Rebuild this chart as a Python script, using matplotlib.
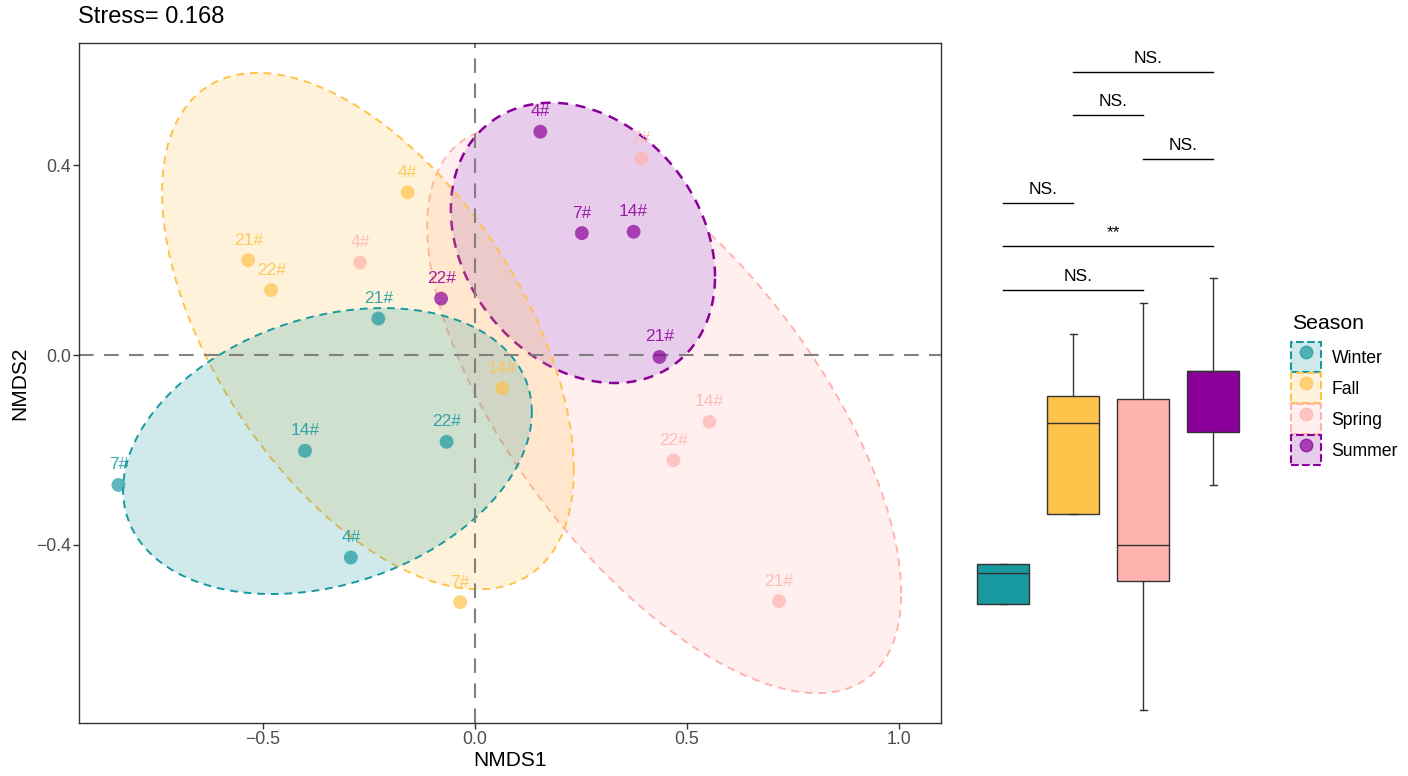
import numpy as np
import matplotlib
matplotlib.use('Agg')
import matplotlib.pyplot as plt
from matplotlib.patches import Patch
from matplotlib.lines import Line2D
from matplotlib.colors import to_rgba, to_rgb

plt.rcParams['font.family'] = ['Liberation Sans', 'DejaVu Sans']

# Groups and colours
seasons = ['Winter', 'Fall', 'Spring', 'Summer']
colors = ['#18999F', '#FFC24A', '#FFB3AE', '#8B009B']
sites = ['4#', '7#', '14#', '21#', '22#']
stress = 0.168

# NMDS scores, sites in the order above
nmds1Winter = [-0.293, -0.841, -0.401, -0.228, -0.067]
nmds2Winter = [-0.427, -0.274, -0.202, 0.077, -0.183]
nmds1Fall = [-0.159, -0.035, 0.064, -0.535, -0.481]
nmds2Fall = [0.343, -0.521, -0.070, 0.200, 0.137]
nmds1Spring = [-0.271, 0.392, 0.553, 0.717, 0.468]
nmds2Spring = [0.195, 0.414, -0.141, -0.519, -0.222]
nmds1Summer = [0.154, 0.252, 0.374, 0.435, -0.080]
nmds2Summer = [0.471, 0.257, 0.260, -0.004, 0.119]

nmds1 = [nmds1Winter, nmds1Fall, nmds1Spring, nmds1Summer]
nmds2 = [nmds2Winter, nmds2Fall, nmds2Spring, nmds2Summer]

# Confidence ellipses: centre, half extent on each axis, correlation
ellCx = [-0.348, -0.2525, 0.446, 0.2545]
ellCy = [-0.2025, 0.0505, -0.116, 0.2365]
ellHx = [0.482, 0.4855, 0.559, 0.3115]
ellHy = [0.3015, 0.5445, 0.597, 0.2955]
ellRho = [0.272, -0.537, -0.647, -0.24]

# Boxplot summary per season
boxLow = [1.19, 2.09, 0.13, 2.38]
boxQ1 = [1.19, 2.09, 1.42, 2.91]
boxMed = [1.50, 3.00, 1.78, 3.52]
boxQ3 = [1.59, 3.27, 3.24, 3.52]
boxHigh = [1.59, 3.89, 4.20, 4.45]

# Pairwise comparisons (box positions 1..4)
compA = [2, 2, 3, 1, 1, 1]
compB = [4, 3, 4, 2, 4, 3]
compY = [6.51, 6.08, 5.64, 5.20, 4.77, 4.33]
compLabel = ['NS.', 'NS.', 'NS.', 'NS.', '**', 'NS.']

xTicks = [-0.5, 0.0, 0.5, 1.0]
xTickLabels = ['\u22120.5', '0.0', '0.5', '1.0']
yTicks = [-0.4, 0.0, 0.4]
yTickLabels = ['\u22120.4', '0.0', '0.4']


# Outline of an ellipse from its centre and covariance-like matrix
def ellipsePoints(cx, cy, hx, hy, rho, n=300):
    cov = np.array([[hx ** 2, rho * hx * hy], [rho * hx * hy, hy ** 2]])
    chol = np.linalg.cholesky(cov)
    t = np.linspace(0, 2 * np.pi, n)
    pts = chol @ np.vstack([np.cos(t), np.sin(t)])
    return cx + pts[0], cy + pts[1]


# Light tint of a colour, as seen on white
def tint(c, a=0.2):
    return tuple(np.array(to_rgb(c)) * a + (1 - a))


fig = plt.figure(figsize=(14.08, 7.76), dpi=100)

# ---- NMDS panel
ax = fig.add_axes([79 / 1408, 53 / 776, 862 / 1408, 680 / 776])

# Spring first, then Summer (solid tint, hides Spring below), then Fall and Winter
for i in [2, 3, 1, 0]:
    ex, ey = ellipsePoints(ellCx[i], ellCy[i], ellHx[i], ellHy[i], ellRho[i])
    fc = tint(colors[i]) if seasons[i] == 'Summer' else to_rgba(colors[i], 0.2)
    lw = 1.8 if seasons[i] == 'Summer' else 1.4
    ax.fill(ex, ey, facecolor=fc, edgecolor=colors[i],
            lw=lw, linestyle=(0, (4, 3)), zorder=2)

ax.axvline(0, color='#808080', lw=1.5, dashes=(7, 5), zorder=2.5)
ax.axhline(0, color='#808080', lw=1.5, dashes=(7, 5), zorder=2.5)

for i in range(len(seasons)):
    ax.scatter(nmds1[i], nmds2[i], s=100, color=colors[i], alpha=0.7,
               edgecolors='none', zorder=3)
    for x, y, lab in zip(nmds1[i], nmds2[i], sites):
        ax.annotate(lab, (x, y), xytext=(0, 14.4), textcoords='offset points',
                    ha='center', va='center', color=colors[i], alpha=0.85,
                    fontsize=12.5, zorder=4)

ax.set_xlim(-0.934, 1.099)
ax.set_ylim(-0.776, 0.658)
ax.set_xticks(xTicks)
ax.set_xticklabels(xTickLabels)
ax.set_yticks(yTicks)
ax.set_yticklabels(yTickLabels)
ax.tick_params(length=4, width=1, color='#333333', labelcolor='#4d4d4d',
               labelsize=12.7, pad=2)
for sp in ax.spines.values():
    sp.set_color('#333333')
    sp.set_linewidth(1)
ax.set_xlabel('NMDS1', fontsize=15, labelpad=2)
ax.set_ylabel('NMDS2', fontsize=15, labelpad=5)

fig.text(78 / 1408, 1 - 17 / 776, f'Stress= {stress}', fontsize=17,
         ha='left', va='center')

# ---- Boxplot panel
bx = fig.add_axes([961 / 1408, 53 / 776, 294 / 1408, 680 / 776])
stats = []
for i in range(len(seasons)):
    stats.append(dict(med=boxMed[i], q1=boxQ1[i], q3=boxQ3[i],
                      whislo=boxLow[i], whishi=boxHigh[i], fliers=[]))
bp = bx.bxp(stats, positions=[1, 2, 3, 4], widths=0.75, patch_artist=True,
            showfliers=False, capwidths=0.1,
            boxprops=dict(edgecolor='#333333', lw=1),
            medianprops=dict(color='#333333', lw=1),
            whiskerprops=dict(color='#333333', lw=1),
            capprops=dict(color='#333333', lw=1))
for patch, c in zip(bp['boxes'], colors):
    patch.set_facecolor(c)

for a, b, y, lab in zip(compA, compB, compY, compLabel):
    bx.plot([a, b], [y, y], color='black', lw=1)
    bx.annotate(lab, ((a + b) / 2, y), xytext=(4, 9.6), textcoords='offset points',
                ha='center', va='center', fontsize=12.5)

bx.set_xlim(0.4, 4.6)
bx.set_ylim(0, 6.8)
bx.axis('off')

# ---- Legend (title written separately to keep the gap above the keys)
handles = []
for c in colors:
    handles.append((Patch(facecolor=to_rgba(c, 0.2), edgecolor=c, linestyle='--', lw=1.5),
                    Line2D([], [], marker='o', ls='', ms=9, color=c, alpha=0.7)))
fig.legend(handles, seasons, loc='upper left',
           bbox_to_anchor=(1291 / 1408, 1 - 342 / 776), frameon=False,
           fontsize=12.7, handlelength=1.7, handleheight=2.25,
           handletextpad=0.6, labelspacing=0.05, borderpad=0, borderaxespad=0)
fig.text(1292 / 1408, 1 - 323 / 776, 'Season', fontsize=15.3, ha='left', va='center')

fig.savefig('out.png', dpi=100)
